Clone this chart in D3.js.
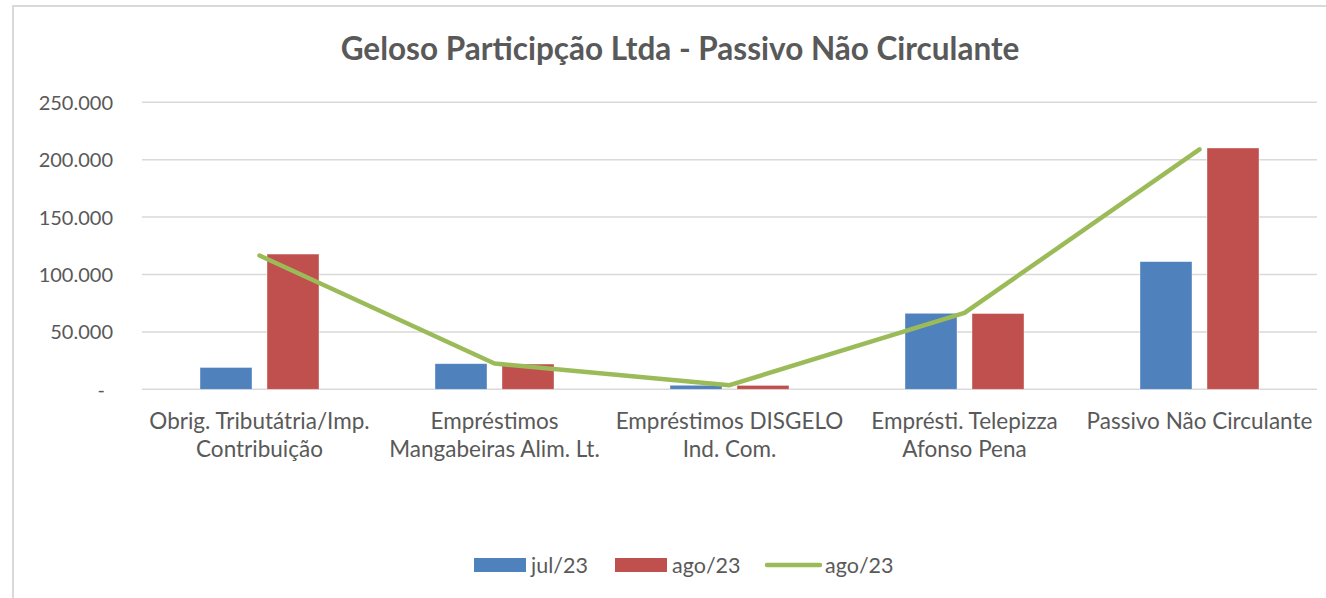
<!DOCTYPE html>
<html>
<head>
<meta charset="utf-8">
<script src="https://cdn.jsdelivr.net/npm/d3@7"></script>
<style>
  html, body { margin: 0; padding: 0; background: #fff; }
  svg { display: block; }
  text { font-family: Lato, "Open Sans", sans-serif; fill: #595959; }
</style>
</head>
<body>
<svg id="chart" width="1326" height="598"></svg>
<script>
const categories = [
  ["Obrig. Tributátria/Imp.", "Contribuição"],
  ["Empréstimos", "Mangabeiras Alim. Lt."],
  ["Empréstimos DISGELO", "Ind. Com."],
  ["Emprésti. Telepizza", "Afonso Pena"],
  ["Passivo Não Circulante"]
];
const julValues = [19000, 22300, 3500, 66200, 111200];
const agoValues = [117800, 22000, 3400, 66000, 210200];
const agoLineValues = [116500, 22500, 3600, 66500, 209000];
const yTicks = [0, 50000, 100000, 150000, 200000, 250000];
const seriesNames = ["jul/23", "ago/23", "ago/23"];
const colors = { jul: "#4f81bd", ago: "#c0504d", line: "#9bbb59" };

const svg = d3.select("#chart");

// chart border
svg.append("rect")
  .attr("x", 13).attr("y", 6)
  .attr("width", 1400).attr("height", 700)
  .attr("fill", "none").attr("stroke", "#d9d9d9").attr("stroke-width", 2);

const plot = { left: 142, right: 1317, top: 102.3, bottom: 389.3 };
const catIdx = categories.map((d, i) => i);

const x = d3.scaleBand().domain(catIdx).range([plot.left, plot.right]).padding(0);
const bw = x.bandwidth();
const groupW = 119;
const x1 = d3.scaleBand().domain(["jul", "ago"])
  .range([(bw - groupW) / 2, (bw + groupW) / 2])
  .paddingInner(0.224).paddingOuter(0);
const y = d3.scaleLinear().domain([0, 250000]).range([plot.bottom, plot.top]);

// gridlines
svg.append("g").selectAll("line").data(yTicks).join("line")
  .attr("x1", plot.left).attr("x2", plot.right)
  .attr("y1", d => y(d)).attr("y2", d => y(d))
  .attr("stroke", "#d9d9d9").attr("stroke-width", 1.5);

// y axis labels
const fmt = d => d === 0 ? "-" : d3.format(",")(d).replace(/,/g, ".");
const yAxis = d3.axisLeft(y).tickValues(yTicks).tickFormat(fmt).tickSize(0).tickPadding(0);
const yg = svg.append("g").attr("transform", `translate(113,0)`).call(yAxis);
yg.select(".domain").remove();
yg.selectAll("text").attr("font-size", 20).attr("fill", "#595959")
  .style("font-family", "Lato, 'Open Sans', sans-serif")
  .attr("dy", "0.35em");
yg.selectAll(".tick").filter(d => d === 0).select("text").attr("dx", -8);

// title
svg.append("text")
  .attr("x", 680).attr("y", 60)
  .attr("text-anchor", "middle")
  .attr("font-size", 31.5).attr("font-weight", "bold")
  .text("Geloso Participção Ltda - Passivo Não Circulante");

// bars
const barData = [];
catIdx.forEach(i => {
  barData.push({ i, s: "jul", v: julValues[i] });
  barData.push({ i, s: "ago", v: agoValues[i] });
});
svg.append("g").selectAll("rect").data(barData).join("rect")
  .attr("x", d => x(d.i) + x1(d.s))
  .attr("width", x1.bandwidth())
  .attr("y", d => y(d.v))
  .attr("height", d => y(0) - y(d.v))
  .attr("fill", d => colors[d.s])
  .attr("stroke", "#ffffff").attr("stroke-opacity", 0.5).attr("stroke-width", 0.75);

// line
const line = d3.line()
  .x((d, i) => x(i) + bw / 2)
  .y(d => y(d));
svg.append("path")
  .datum(agoLineValues)
  .attr("d", line)
  .attr("fill", "none")
  .attr("stroke", colors.line)
  .attr("stroke-width", 4.5)
  .attr("stroke-linecap", "round")
  .attr("stroke-linejoin", "round");

// category labels
const cg = svg.append("g");
categories.forEach((lines, i) => {
  const t = cg.append("text")
    .attr("text-anchor", "middle")
    .attr("font-size", 22.5);
  lines.forEach((l, j) => {
    t.append("tspan")
      .attr("x", x(i) + bw / 2)
      .attr("y", 429 + j * 28)
      .text(l);
  });
});

// legend
const lg = svg.append("g");
lg.append("rect").attr("x", 474).attr("y", 558).attr("width", 52).attr("height", 14).attr("fill", colors.jul);
lg.append("text").attr("x", 531).attr("y", 573).attr("font-size", 21.5).text(seriesNames[0]);
lg.append("rect").attr("x", 615).attr("y", 558).attr("width", 52).attr("height", 14).attr("fill", colors.ago);
lg.append("text").attr("x", 672).attr("y", 573).attr("font-size", 21.5).text(seriesNames[1]);
lg.append("line").attr("x1", 767).attr("x2", 820).attr("y1", 565).attr("y2", 565)
  .attr("stroke", colors.line).attr("stroke-width", 4.5).attr("stroke-linecap", "round");
lg.append("text").attr("x", 825).attr("y", 573).attr("font-size", 21.5).text(seriesNames[2]);
</script>
</body>
</html>
